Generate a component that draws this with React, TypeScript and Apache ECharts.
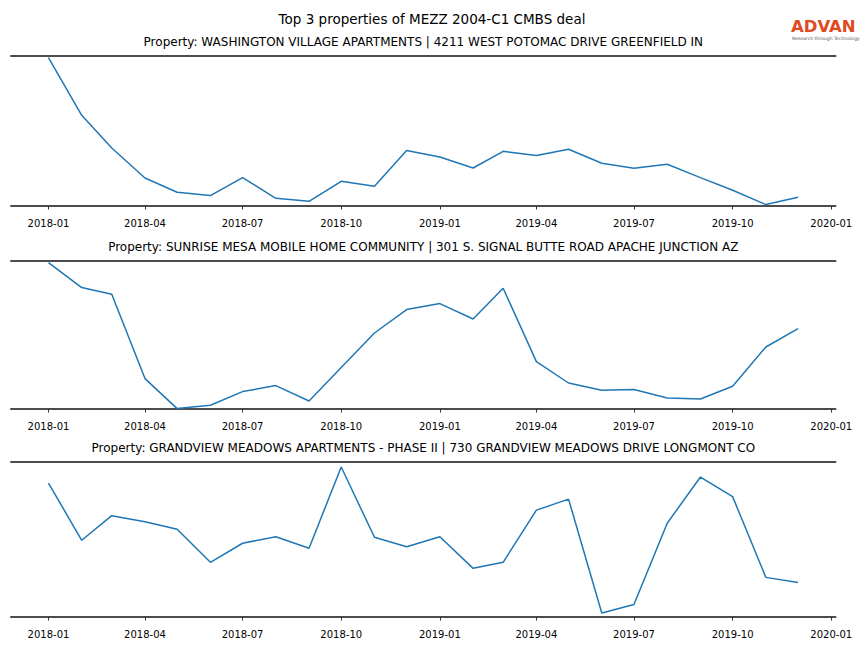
import React, { useEffect, useRef } from "react";
import * as echarts from "echarts";

const FONT = "DejaVu Sans";

const months: string[] = [
  "2018-01", "2018-02", "2018-03", "2018-04", "2018-05", "2018-06",
  "2018-07", "2018-08", "2018-09", "2018-10", "2018-11", "2018-12",
  "2019-01", "2019-02", "2019-03", "2019-04", "2019-05", "2019-06",
  "2019-07", "2019-08", "2019-09", "2019-10", "2019-11", "2019-12",
];

const tickLabels: string[] = [
  "2018-01", "2018-04", "2018-07", "2018-10",
  "2019-01", "2019-04", "2019-07", "2019-10", "2020-01",
];

const mainTitle = "Top 3 properties of MEZZ 2004-C1 CMBS deal";

const propertyTitles: string[] = [
  "Property: WASHINGTON VILLAGE APARTMENTS | 4211 WEST POTOMAC DRIVE GREENFIELD IN",
  "Property: SUNRISE MESA MOBILE HOME COMMUNITY | 301 S. SIGNAL BUTTE ROAD APACHE JUNCTION AZ",
  "Property: GRANDVIEW MEADOWS APARTMENTS - PHASE II | 730 GRANDVIEW MEADOWS DRIVE LONGMONT CO",
];

const washingtonVillage: number[] = [
  1484, 907, 580, 280, 137, 104, 284, 77, 47, 247, 197, 554,
  490, 380, 547, 504, 567, 427, 377, 417, 284, 157, 14, 87,
];

const sunriseMesa: number[] = [
  732, 607, 574, 152, 2, 19, 87, 117, 40, 207, 380, 497,
  527, 450, 604, 237, 130, 94, 97, 55, 50, 114, 310, 402,
];

const grandviewMeadows: number[] = [
  267, 153, 202, 190, 175, 109, 147, 160, 137, 299, 159, 140,
  160, 97, 109, 213, 235, 8, 25, 187, 279, 240, 79, 69,
];

const seriesValues: number[][] = [washingtonVillage, sunriseMesa, grandviewMeadows];
const yMaxes: number[] = [1500, 740, 309];

function ts(m: string): number {
  const [y, mo] = m.split("-").map(Number);
  return new Date(y, mo - 1, 1).getTime();
}

function fmt(v: number): string {
  const d = new Date(v);
  const mm = String(d.getMonth() + 1).padStart(2, "0");
  return `${d.getFullYear()}-${mm}`;
}

export default function App() {
  const ref = useRef<HTMLDivElement>(null);

  useEffect(() => {
    if (!ref.current) return;
    const chart = echarts.init(ref.current, undefined, { renderer: "svg" });

    const first = ts(months[0]);
    const last = ts(months[months.length - 1]);
    const pad = (last - first) * 0.05;
    const xMin = first - pad;
    const xMax = last + pad;
    const tickTs = tickLabels.map(ts);

    const grids = [
      { top: 56, height: 150 },
      { top: 261, height: 148 },
      { top: 462, height: 155 },
    ];

    const gridOpts = grids.map((g) => ({
      left: 11,
      right: 28.5,
      top: g.top,
      height: g.height,
      containLabel: false,
    }));

    const xAxes: any[] = [];
    const yAxes: any[] = [];
    const series: any[] = [];
    const titleGraphics: any[] = [];

    grids.forEach((g, gi) => {
      const base = xAxes.length;
      xAxes.push({
        type: "value",
        gridIndex: gi,
        position: "bottom",
        min: xMin,
        max: xMax,
        offset: 7,
        axisLine: { show: false },
        axisTick: {
          show: true,
          length: 3.5,
          customValues: tickTs,
          lineStyle: { color: "#333", width: 1 },
        },
        axisLabel: {
          show: true,
          customValues: tickTs,
          formatter: (v: number) => fmt(v),
          margin: 5,
          fontSize: 10,
          color: "#000",
          fontFamily: FONT,
          hideOverlap: false,
          showMinLabel: true,
          showMaxLabel: true,
        },
        splitLine: { show: false },
      });
      xAxes.push({
        type: "value",
        gridIndex: gi,
        position: "bottom",
        min: 0,
        max: 1,
        axisLine: { show: true, lineStyle: { color: "#4d4d4d", width: 2 } },
        axisTick: { show: false },
        axisLabel: { show: false },
        splitLine: { show: false },
      });
      xAxes.push({
        type: "value",
        gridIndex: gi,
        position: "top",
        min: 0,
        max: 1,
        axisLine: { show: true, lineStyle: { color: "#4d4d4d", width: 2 } },
        axisTick: { show: false },
        axisLabel: { show: false },
        splitLine: { show: false },
      });
      yAxes.push({
        type: "value",
        gridIndex: gi,
        min: 0,
        max: yMaxes[gi],
        show: false,
        splitLine: { show: false },
      });
      series.push({
        type: "line",
        xAxisIndex: base,
        yAxisIndex: gi,
        showSymbol: false,
        symbol: "none",
        lineStyle: { color: "#1f77b4", width: 1.5 },
        data: months.map((m, i) => [ts(m), seriesValues[gi][i]]),
        z: 1,
      });
      titleGraphics.push({
        type: "text",
        x: 423.3,
        y: g.top - 14,
        style: {
          text: propertyTitles[gi],
          fontSize: 12,
          fontFamily: FONT,
          fill: "#000",
          align: "center",
          verticalAlign: "middle",
        },
      });
    });

    chart.setOption({
      animation: false,
      backgroundColor: "#fff",
      grid: gridOpts,
      xAxis: xAxes,
      yAxis: yAxes,
      series,
      graphic: [
        {
          type: "text",
          x: 432,
          y: 19,
          style: {
            text: mainTitle,
            fontSize: 13.5,
            fontFamily: FONT,
            fill: "#000",
            align: "center",
            verticalAlign: "middle",
          },
        },
        ...titleGraphics,
        {
          type: "text",
          x: 791,
          y: 27,
          scaleX: 1.1,
          style: {
            text: "ADVAN",
            fontSize: 15,
            fontWeight: "bold",
            fontFamily: FONT,
            fill: "#e04a22",
            align: "left",
            verticalAlign: "middle",
          },
        },
        {
          type: "text",
          x: 792,
          y: 38.5,
          style: {
            text: "Research through Technology",
            fontSize: 4.6,
            fontFamily: FONT,
            fill: "#555",
            align: "left",
            verticalAlign: "middle",
          },
        },
      ],
    });

    return () => {
      chart.dispose();
    };
  }, []);

  return (
    <div
      ref={ref}
      style={{ position: "fixed", left: 0, top: 0, width: 864, height: 648 }}
    />
  );
}
